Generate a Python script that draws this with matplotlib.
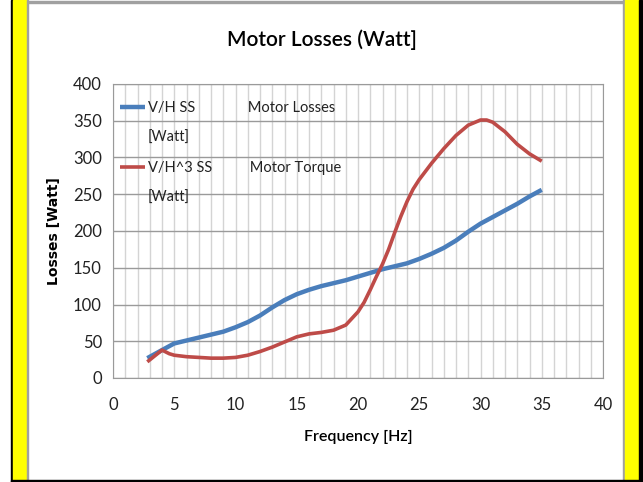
import numpy as np
import matplotlib
matplotlib.use("Agg")
from matplotlib import pyplot as plt
from matplotlib.lines import Line2D
from matplotlib.patches import Rectangle

# ---- data ----
freq_vh = [2.8, 4, 5, 6, 7, 8, 9, 10, 11, 12, 13, 14, 15, 16, 17, 18, 19, 20,
           21, 22, 23, 24, 25, 26, 27, 28, 29, 30, 31, 32, 33, 34, 35]
loss_vh = [27, 38, 47, 51, 55, 59, 63, 69, 76, 85, 96, 106, 114, 120, 125, 129,
           133, 138, 143, 148, 152, 156, 162, 169, 177, 187, 199, 210, 219, 228,
           237, 247, 256]

freq_vh3 = [2.8, 4, 4.6, 5, 6, 7, 8, 9, 10, 11, 12, 13, 14, 15, 16, 17, 18, 19,
            20, 20.5, 21, 21.5, 22, 22.5, 23, 23.5, 24, 24.5, 25, 26, 27, 28, 29,
            30, 30.5, 31, 32, 33, 34, 35]
loss_vh3 = [22, 38, 33, 31, 29, 28, 27, 27, 28, 31, 36, 42, 49, 56, 60, 62, 65,
            72, 90, 103, 120, 138, 155, 175, 198, 220, 240, 257, 270, 292, 312,
            330, 344, 351, 351, 348, 335, 318, 305, 295]

labels = ["V/H SS              Motor Losses",
          "V/H^3 SS          Motor Torque"]
unit = "[Watt]"
colors = ["#4a7ebb", "#be4b48"]

W, H = 643, 482
fig = plt.figure(figsize=(W / 100, H / 100), dpi=100)
font = ["Lato", "DejaVu Sans"]


def px_rect(x0, y0, x1, y1, color):
    fig.patches.append(Rectangle((x0 / W, 1 - y1 / H), (x1 - x0) / W, (y1 - y0) / H,
                                 transform=fig.transFigure, color=color, zorder=0))


# slide frame: black edges, yellow bands, grey chart border
px_rect(11, 0, 13, 482, "black")
px_rect(13, 0, 27, 482, "#ffff00")
px_rect(27, 0, 28, 482, "#a0a0a0")
px_rect(623, 0, 625, 482, "#a0a0a0")
px_rect(625, 0, 639, 482, "#ffff00")
px_rect(639, 0, 642, 482, "black")
px_rect(11, 480, 642, 482, "black")
px_rect(28, 1, 623, 3, "#a0a0a0")

ax = fig.add_axes([113 / W, 1 - 378 / H, (603 - 113) / W, (378 - 84) / H])
ax.set_facecolor("none")

l1, = ax.plot(freq_vh, loss_vh, color=colors[0], lw=3.2,
              solid_capstyle="butt", zorder=3)
l2, = ax.plot(freq_vh3, loss_vh3, color=colors[1], lw=2.6,
              solid_capstyle="butt", zorder=3)

ax.set_xlim(0, 40)
ax.set_ylim(0, 400)
ax.set_xticks(np.arange(0, 41, 5))
ax.set_yticks(np.arange(0, 401, 50))
ax.set_xticks(np.arange(0, 41, 1), minor=True)
ax.grid(True, which="minor", axis="x", color="#d4d4d4", lw=1)
ax.grid(True, which="major", axis="x", color="#d4d4d4", lw=1)
ax.grid(True, which="major", axis="y", color="#9a9a9a", lw=1)
ax.set_axisbelow(True)
for s in ax.spines.values():
    s.set_color("#9a9a9a")
ax.tick_params(axis="x", which="both", length=0, pad=14, labelsize=12)
ax.tick_params(axis="y", which="both", length=0, pad=8, labelsize=12)
for t in ax.get_xticklabels() + ax.get_yticklabels():
    t.set_family(font)
    t.set_color("#222222")

ax.set_xlabel("Frequency [Hz]", family=font, fontsize=11.5, fontweight="semibold",
              labelpad=12)
ax.set_ylabel("Losses [Watt]", fontsize=10, fontweight="bold", labelpad=9)
fig.text(0.5, 1 - 40 / H, "Motor Losses (Watt]", family=font, fontsize=15,
         fontweight="semibold", ha="center", va="center")

# legend: unit on its own row under each entry, no handle for it
blank = Line2D([], [], color="none")
leg = ax.legend([l1, blank, l2, blank], [labels[0], unit, labels[1], unit],
                loc="upper left", bbox_to_anchor=(0.0, 0.968), frameon=False,
                handlelength=1.7, handletextpad=0.2, labelspacing=1.1,
                borderaxespad=0.1, prop={"family": font, "size": 10.5})
for t in leg.get_texts():
    t.set_color("#222222")

fig.savefig("out.png", dpi=100)
